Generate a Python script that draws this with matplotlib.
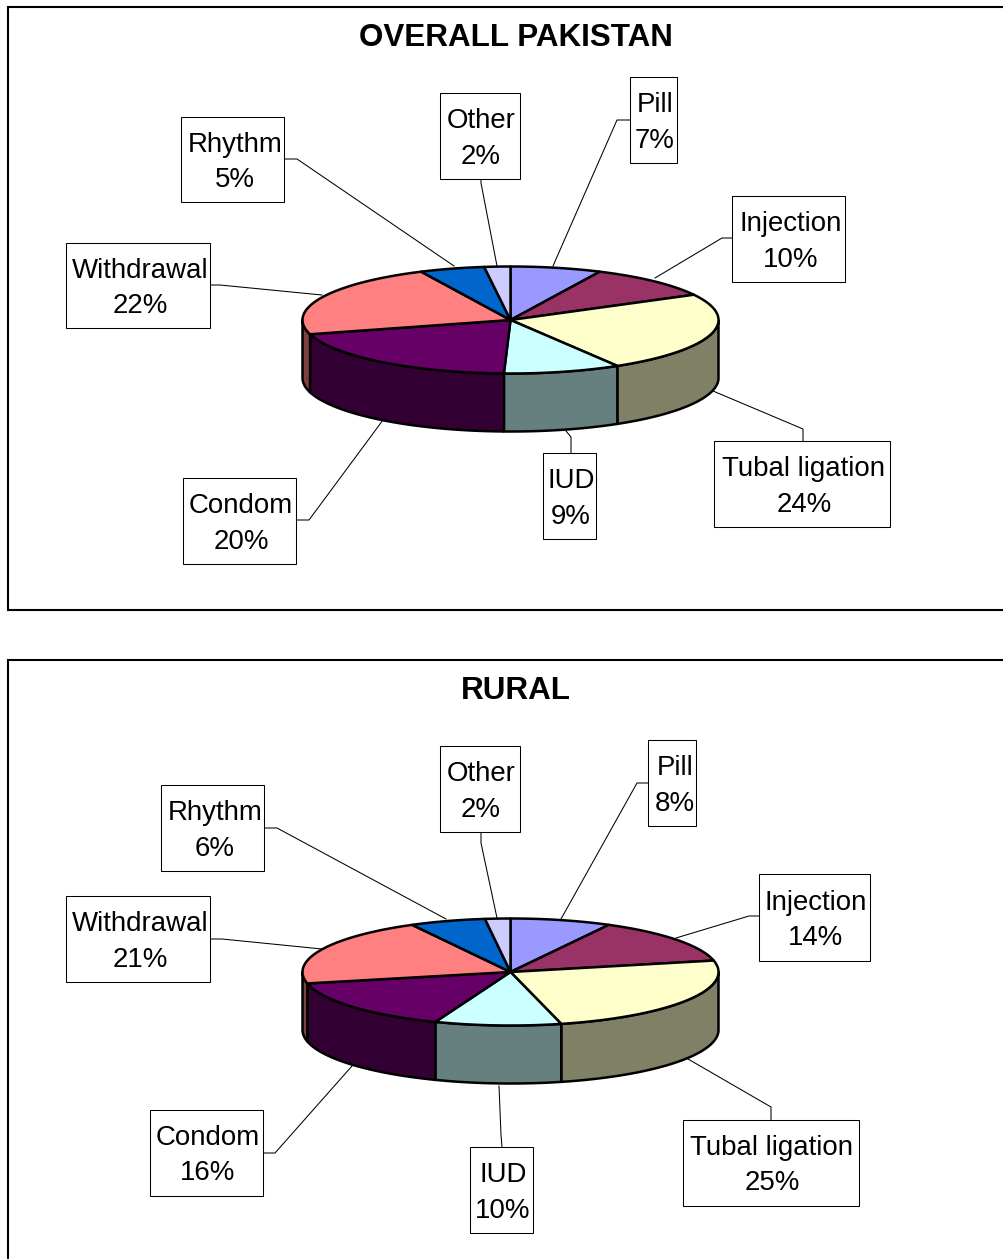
import numpy as np
import matplotlib
matplotlib.use("Agg")
import matplotlib.pyplot as plt
from matplotlib.patches import Polygon, Rectangle

plt.rcParams['font.family'] = ['Liberation Sans', 'DejaVu Sans']

# ---- data ----
categories = ["Pill", "Injection", "Tubal ligation", "IUD", "Condom", "Withdrawal", "Rhythm", "Other"]
overall_values = [7, 10, 24, 9, 20, 22, 5, 2]
rural_values = [8, 14, 25, 10, 16, 21, 6, 2]
titles = ["OVERALL PAKISTAN", "RURAL"]

# ---- style ----
top_colors = ["#9999FF", "#993366", "#FFFFCC", "#CCFFFF", "#660066", "#FF8080", "#0066CC", "#CCCCFF"]
side_colors = ["#4D4D80", "#4D1A33", "#808066", "#668080", "#330033", "#804040", "#003366", "#666680"]

# ---- layout (pixels) ----
W, H = 1004, 1259
frames = [(8, 7, 1100, 610), (8, 660, 1100, 1300)]
title_pos = [(515.5, 38), (516, 691)]
centers = [(510.5, 320), (510.5, 972)]
RX, RY, DEPTH = 208, 53.5, 58

# box: x0, y0, x1, y1 ; text centre x ; leader polyline
overall_layout = [
    ((631, 77, 678, 163), 655, [(631, 120), (617, 120), (553, 266)]),
    ((733, 196, 846, 282), 791, [(733, 238), (722, 238), (655, 278)]),
    ((715, 441, 891, 527), 804, [(803, 441), (803, 429), (713, 391)]),
    ((544, 453, 597, 539), 571, [(571, 453), (571, 437), (566, 431)]),
    ((184, 478, 297, 564), 241, [(297, 520), (309, 520), (383, 420)]),
    ((67, 243, 211, 328), 140, [(211, 285), (220, 285), (322, 295)]),
    ((182, 117, 285, 202), 235, [(285, 159), (297, 159), (454, 266)]),
    ((441, 93, 521, 179), 481, [(481, 179), (481, 183), (497, 266)]),
]
rural_layout = [
    ((649, 740, 697, 826), 675, [(649, 783), (637, 783), (561, 919)]),
    ((760, 874, 871, 961), 816, [(760, 916), (749, 916), (676, 938)]),
    ((684, 1120, 860, 1206), 772, [(771, 1120), (771, 1107), (688, 1059)]),
    ((471, 1147, 534, 1233), 503, [(502, 1147), (501, 1135), (499, 1086)]),
    ((151, 1110, 264, 1196), 208, [(264, 1153), (275, 1153), (352, 1066)]),
    ((67, 896, 211, 982), 140, [(211, 939), (222, 939), (322, 949)]),
    ((162, 785, 265, 871), 215, [(265, 828), (277, 828), (446, 919)]),
    ((441, 746, 521, 832), 481, [(481, 832), (481, 843), (497, 918)]),
]

fig = plt.figure(figsize=(W / 100, H / 100), dpi=100)
ax = fig.add_axes([0, 0, 1, 1])
ax.set_xlim(0, W)
ax.set_ylim(H, 0)
ax.axis("off")

EDGE = 1.8
BOX_SHIFT = -0.5
LABEL_FS = 19.9


def arc(cx, cy, a0, a1, dy=0.0):
    t = np.radians(np.linspace(a0, a1, max(2, int(abs(a1 - a0)) * 2 + 2)))
    return np.column_stack([cx + RX * np.sin(t), cy - RY * np.cos(t) + dy])


def draw_pie(values, center, layout):
    cx, cy = center
    edges = np.concatenate([[0], np.cumsum(values)]) / sum(values) * 360
    # front wall first
    for i in range(len(values)):
        a0, a1 = max(edges[i], 90), min(edges[i + 1], 270)
        if a1 > a0:
            upper = arc(cx, cy, a0, a1)
            lower = arc(cx, cy, a0, a1, DEPTH)[::-1]
            ax.add_patch(Polygon(np.vstack([upper, lower]), closed=True, fc=side_colors[i],
                                 ec="black", lw=EDGE, joinstyle="round", zorder=3))
    # top slices
    for i in range(len(values)):
        pts = np.vstack([[(cx, cy)], arc(cx, cy, edges[i], edges[i + 1])])
        ax.add_patch(Polygon(pts, closed=True, fc=top_colors[i], ec="black", lw=EDGE,
                             joinstyle="round", zorder=4))
    # labels
    for name, val, (box, tx, line) in zip(categories, values, layout):
        xs, ys = zip(*line)
        ax.plot(xs, ys, color="black", lw=0.75, zorder=2, solid_joinstyle="miter")
        x0, y0, x1, y1 = box
        ax.add_patch(Rectangle((x0 + BOX_SHIFT, y0 + BOX_SHIFT), x1 - x0, y1 - y0,
                               fc="white", ec="black", lw=0.75, zorder=5))
        ym = (y0 + y1) / 2
        ax.text(tx, ym - 15, name, ha="center", va="center", fontsize=LABEL_FS, zorder=6)
        ax.text(tx, ym + 20.5, f"{val}%", ha="center", va="center", fontsize=LABEL_FS, zorder=6)


for (x0, y0, x1, y1) in frames:
    ax.add_patch(Rectangle((x0, y0), x1 - x0, y1 - y0, fc="white", ec="black", lw=1.5, zorder=1))

for title, pos in zip(titles, title_pos):
    ax.text(pos[0], pos[1], title, ha="center", va="center", fontsize=22.6,
            fontweight="bold", zorder=6)

draw_pie(overall_values, centers[0], overall_layout)
draw_pie(rural_values, centers[1], rural_layout)

fig.savefig("out.png", dpi=100, facecolor="white")
